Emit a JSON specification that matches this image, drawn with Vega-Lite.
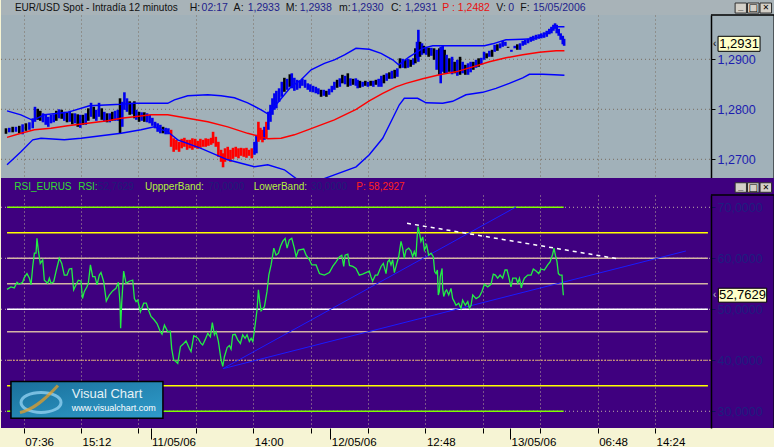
{
"$schema":"https://vega.github.io/schema/vega-lite/v6.json",
"padding":0,"background":"#f6f4d4","spacing":0,"bounds":"flush",
"config":{"view":{"stroke":null},"font":"Liberation Sans"},
"resolve":{"scale":{"x":"independent","y":"independent","color":"independent"}},
"datasets":{
"price":[
{"t":-11.7,"lo":1.2751,"hi":1.2762,"c":"k"},{"t":-9.5,"lo":1.2754,"hi":1.2763,"c":"b"},{"t":-7.3,"lo":1.2754,"hi":1.2765,"c":"k"},{"t":-5.1,"lo":1.2755,"hi":1.2765,"c":"b"},{"t":-2.9,"lo":1.2752,"hi":1.2767,"c":"k"},{"t":-0.7,"lo":1.275,"hi":1.277,"c":"b"},{"t":1.5,"lo":1.2757,"hi":1.2772,"c":"k"},{"t":3.8,"lo":1.2759,"hi":1.2774,"c":"b"},{"t":6.0,"lo":1.2762,"hi":1.2782,"c":"b"},{"t":7.5,"lo":1.2775,"hi":1.2805,"c":"b"},{"t":9.3,"lo":1.2779,"hi":1.2801,"c":"k"},{"t":11.0,"lo":1.2777,"hi":1.2797,"c":"k"},{"t":12.8,"lo":1.2774,"hi":1.2792,"c":"b"},{"t":14.6,"lo":1.2769,"hi":1.2789,"c":"b"},{"t":16.3,"lo":1.2765,"hi":1.2785,"c":"b"},{"t":18.1,"lo":1.2772,"hi":1.2789,"c":"b"},{"t":19.9,"lo":1.2774,"hi":1.279,"c":"b"},{"t":21.6,"lo":1.2777,"hi":1.2797,"c":"k"},{"t":23.4,"lo":1.2782,"hi":1.28,"c":"b"},{"t":25.2,"lo":1.2781,"hi":1.2799,"c":"k"},{"t":26.9,"lo":1.2777,"hi":1.2795,"c":"b"},{"t":28.7,"lo":1.2774,"hi":1.2794,"c":"k"},{"t":30.5,"lo":1.2775,"hi":1.2797,"c":"b"},{"t":32.2,"lo":1.277,"hi":1.2792,"c":"k"},{"t":34.0,"lo":1.2772,"hi":1.2792,"c":"b"},{"t":35.8,"lo":1.2765,"hi":1.279,"c":"k"},{"t":37.5,"lo":1.2763,"hi":1.2789,"c":"b"},{"t":39.3,"lo":1.2769,"hi":1.2789,"c":"k"},{"t":41.1,"lo":1.2769,"hi":1.2792,"c":"b"},{"t":42.8,"lo":1.2777,"hi":1.2802,"c":"k"},{"t":44.6,"lo":1.2785,"hi":1.2813,"c":"b"},{"t":46.4,"lo":1.2781,"hi":1.2805,"c":"k"},{"t":48.1,"lo":1.2777,"hi":1.2799,"c":"b"},{"t":49.9,"lo":1.2785,"hi":1.2813,"c":"b"},{"t":51.7,"lo":1.2779,"hi":1.2802,"c":"k"},{"t":53.4,"lo":1.2775,"hi":1.2795,"c":"b"},{"t":55.2,"lo":1.2774,"hi":1.2792,"c":"k"},{"t":57.0,"lo":1.2774,"hi":1.2792,"c":"b"},{"t":58.7,"lo":1.2777,"hi":1.2795,"c":"k"},{"t":60.5,"lo":1.2777,"hi":1.2797,"c":"b"},{"t":62.3,"lo":1.2777,"hi":1.2799,"c":"b"},{"t":63.8,"lo":1.2752,"hi":1.2822,"c":"k"},{"t":65.3,"lo":1.2765,"hi":1.2815,"c":"b"},{"t":66.7,"lo":1.2799,"hi":1.2834,"c":"b"},{"t":68.4,"lo":1.2795,"hi":1.2822,"c":"b"},{"t":70.2,"lo":1.2789,"hi":1.2816,"c":"k"},{"t":72.0,"lo":1.279,"hi":1.2813,"c":"b"},{"t":73.3,"lo":1.2782,"hi":1.2816,"c":"k"},{"t":74.6,"lo":1.2779,"hi":1.2799,"c":"b"},{"t":76.4,"lo":1.2775,"hi":1.2795,"c":"k"},{"t":78.1,"lo":1.2777,"hi":1.2794,"c":"b"},{"t":79.9,"lo":1.2775,"hi":1.2794,"c":"k"},{"t":81.7,"lo":1.2774,"hi":1.2792,"c":"b"},{"t":83.4,"lo":1.2772,"hi":1.2789,"c":"b"},{"t":85.2,"lo":1.2767,"hi":1.2783,"c":"b"},{"t":87.0,"lo":1.2762,"hi":1.2775,"c":"b"},{"t":88.7,"lo":1.2755,"hi":1.2772,"c":"b"},{"t":90.5,"lo":1.2752,"hi":1.2769,"c":"b"},{"t":92.3,"lo":1.2752,"hi":1.2765,"c":"k"},{"t":94.0,"lo":1.275,"hi":1.2763,"c":"b"},{"t":95.8,"lo":1.275,"hi":1.2762,"c":"b"},
{"t":97.6,"lo":1.2725,"hi":1.2759,"c":"r"},{"t":99.3,"lo":1.2715,"hi":1.2742,"c":"r"},{"t":101.1,"lo":1.2719,"hi":1.2739,"c":"r"},{"t":102.9,"lo":1.2715,"hi":1.2735,"c":"r"},{"t":104.6,"lo":1.2722,"hi":1.2741,"c":"r"},{"t":106.4,"lo":1.2725,"hi":1.2743,"c":"r"},{"t":108.2,"lo":1.2719,"hi":1.2739,"c":"r"},{"t":109.9,"lo":1.2722,"hi":1.2739,"c":"r"},{"t":111.7,"lo":1.2719,"hi":1.2742,"c":"r"},{"t":113.5,"lo":1.2723,"hi":1.2741,"c":"r"},{"t":115.2,"lo":1.2721,"hi":1.2737,"c":"r"},{"t":117.0,"lo":1.2723,"hi":1.2741,"c":"r"},{"t":118.8,"lo":1.2725,"hi":1.2739,"c":"r"},{"t":120.5,"lo":1.2725,"hi":1.2742,"c":"r"},{"t":122.3,"lo":1.2727,"hi":1.2741,"c":"r"},{"t":124.1,"lo":1.2729,"hi":1.2743,"c":"r"},{"t":125.4,"lo":1.2732,"hi":1.2755,"c":"r"},{"t":127.2,"lo":1.2725,"hi":1.2745,"c":"r"},{"t":128.9,"lo":1.2705,"hi":1.2735,"c":"r"},{"t":130.7,"lo":1.2695,"hi":1.2719,"c":"r"},{"t":132.0,"lo":1.2684,"hi":1.2712,"c":"r"},{"t":133.3,"lo":1.2695,"hi":1.2722,"c":"r"},{"t":135.1,"lo":1.2699,"hi":1.2725,"c":"r"},{"t":136.9,"lo":1.2695,"hi":1.2719,"c":"r"},{"t":138.6,"lo":1.2701,"hi":1.2723,"c":"r"},{"t":140.4,"lo":1.2705,"hi":1.2725,"c":"r"},{"t":142.2,"lo":1.2702,"hi":1.2722,"c":"r"},{"t":143.9,"lo":1.2707,"hi":1.2723,"c":"r"},{"t":145.7,"lo":1.2705,"hi":1.2722,"c":"r"},{"t":147.5,"lo":1.2703,"hi":1.2723,"c":"r"},{"t":149.2,"lo":1.2707,"hi":1.2719,"c":"r"},{"t":151.0,"lo":1.2702,"hi":1.2722,"c":"r"},{"t":152.8,"lo":1.2709,"hi":1.2735,"c":"b"},{"t":154.1,"lo":1.2712,"hi":1.2749,"c":"b"},{"t":155.4,"lo":1.2735,"hi":1.2775,"c":"r"},{"t":156.7,"lo":1.2739,"hi":1.2763,"c":"r"},{"t":158.1,"lo":1.2734,"hi":1.2759,"c":"r"},{"t":159.4,"lo":1.2739,"hi":1.2765,"c":"b"},{"t":160.7,"lo":1.2742,"hi":1.2775,"c":"r"},
{"t":162.0,"lo":1.2759,"hi":1.2795,"c":"b"},{"t":163.4,"lo":1.2775,"hi":1.2809,"c":"b"},{"t":164.7,"lo":1.2789,"hi":1.2822,"c":"b"},{"t":166.0,"lo":1.2799,"hi":1.2832,"c":"b"},{"t":167.3,"lo":1.2802,"hi":1.2837,"c":"b"},{"t":169.1,"lo":1.2815,"hi":1.2842,"c":"b"},{"t":170.9,"lo":1.2825,"hi":1.2855,"c":"b"},{"t":172.6,"lo":1.2835,"hi":1.2863,"c":"k"},{"t":174.4,"lo":1.2839,"hi":1.2861,"c":"b"},{"t":176.2,"lo":1.2845,"hi":1.287,"c":"k"},{"t":177.5,"lo":1.2842,"hi":1.2872,"c":"b"},{"t":179.2,"lo":1.2837,"hi":1.2863,"c":"b"},{"t":181.0,"lo":1.2839,"hi":1.2859,"c":"b"},{"t":182.8,"lo":1.2842,"hi":1.2857,"c":"b"},{"t":184.5,"lo":1.2847,"hi":1.2861,"c":"b"},{"t":186.3,"lo":1.2843,"hi":1.2859,"c":"b"},{"t":188.1,"lo":1.2839,"hi":1.2852,"c":"b"},{"t":189.8,"lo":1.2835,"hi":1.285,"c":"b"},{"t":191.6,"lo":1.2834,"hi":1.2847,"c":"b"},{"t":193.4,"lo":1.2832,"hi":1.2845,"c":"b"},{"t":195.1,"lo":1.283,"hi":1.2842,"c":"b"},{"t":196.9,"lo":1.2825,"hi":1.2839,"c":"k"},{"t":198.7,"lo":1.2827,"hi":1.2839,"c":"b"},{"t":200.4,"lo":1.2825,"hi":1.2837,"c":"k"},{"t":202.2,"lo":1.2829,"hi":1.2841,"c":"b"},{"t":204.0,"lo":1.2834,"hi":1.2847,"c":"b"},{"t":205.7,"lo":1.2839,"hi":1.2855,"c":"b"},{"t":207.5,"lo":1.2843,"hi":1.2859,"c":"k"},{"t":209.3,"lo":1.2845,"hi":1.2862,"c":"b"},{"t":211.0,"lo":1.2852,"hi":1.2869,"c":"k"},{"t":212.8,"lo":1.285,"hi":1.2867,"c":"b"},{"t":214.6,"lo":1.2845,"hi":1.2872,"c":"k"},{"t":216.3,"lo":1.2847,"hi":1.2862,"c":"b"},{"t":218.1,"lo":1.2849,"hi":1.2861,"c":"k"},{"t":219.9,"lo":1.2847,"hi":1.2862,"c":"b"},
{"t":221.1,"lo":1.2842,"hi":1.2859,"c":"b"},{"t":222.6,"lo":1.2843,"hi":1.2857,"c":"k"},{"t":224.4,"lo":1.2845,"hi":1.2855,"c":"b"},{"t":226.2,"lo":1.2847,"hi":1.2857,"c":"k"},{"t":227.9,"lo":1.2845,"hi":1.2855,"c":"b"},{"t":229.7,"lo":1.2847,"hi":1.2857,"c":"k"},{"t":231.5,"lo":1.2845,"hi":1.2857,"c":"b"},{"t":233.2,"lo":1.2849,"hi":1.2859,"c":"k"},{"t":235.0,"lo":1.2845,"hi":1.2861,"c":"b"},{"t":236.8,"lo":1.2845,"hi":1.2867,"c":"b"},{"t":238.5,"lo":1.2852,"hi":1.2869,"c":"k"},{"t":240.3,"lo":1.2857,"hi":1.2872,"c":"b"},{"t":242.1,"lo":1.2861,"hi":1.2874,"c":"k"},{"t":243.8,"lo":1.2861,"hi":1.2877,"c":"b"},{"t":245.6,"lo":1.2862,"hi":1.2879,"c":"k"},{"t":247.4,"lo":1.2865,"hi":1.2882,"c":"b"},{"t":249.1,"lo":1.2882,"hi":1.2902,"c":"k"},{"t":250.9,"lo":1.2883,"hi":1.2901,"c":"b"},{"t":252.7,"lo":1.2882,"hi":1.2899,"c":"k"},{"t":254.4,"lo":1.2883,"hi":1.2901,"c":"b"},{"t":256.2,"lo":1.2885,"hi":1.2899,"c":"k"},{"t":258.0,"lo":1.2889,"hi":1.2902,"c":"b"},{"t":259.3,"lo":1.2892,"hi":1.2922,"c":"k"},{"t":260.4,"lo":1.2902,"hi":1.2935,"c":"b"},{"t":261.3,"lo":1.2895,"hi":1.2959,"c":"b"},{"t":262.4,"lo":1.2905,"hi":1.2935,"c":"k"},{"t":263.7,"lo":1.2909,"hi":1.2932,"c":"b"},{"t":265.0,"lo":1.2912,"hi":1.2927,"c":"k"},{"t":266.4,"lo":1.2909,"hi":1.2925,"c":"b"},{"t":268.1,"lo":1.2905,"hi":1.2923,"c":"k"},{"t":269.9,"lo":1.2907,"hi":1.2923,"c":"b"},{"t":271.7,"lo":1.2899,"hi":1.2922,"c":"k"},{"t":273.4,"lo":1.2879,"hi":1.2919,"c":"b"},{"t":275.2,"lo":1.2869,"hi":1.2922,"c":"k"},{"t":276.1,"lo":1.2852,"hi":1.2925,"c":"b"},{"t":277.4,"lo":1.2875,"hi":1.2927,"c":"b"},{"t":278.7,"lo":1.2872,"hi":1.2919,"c":"k"},{"t":280.0,"lo":1.2872,"hi":1.2909,"c":"b"},{"t":281.8,"lo":1.2875,"hi":1.2902,"c":"k"},{"t":283.6,"lo":1.287,"hi":1.2905,"c":"b"},{"t":285.3,"lo":1.2872,"hi":1.2895,"c":"k"},{"t":287.1,"lo":1.2867,"hi":1.2899,"c":"b"},{"t":288.9,"lo":1.2869,"hi":1.2905,"c":"k"},{"t":290.6,"lo":1.2872,"hi":1.2895,"c":"b"},{"t":292.4,"lo":1.2869,"hi":1.2889,"c":"k"},{"t":294.2,"lo":1.2869,"hi":1.2892,"c":"b"},{"t":295.9,"lo":1.2874,"hi":1.2895,"c":"b"},{"t":297.7,"lo":1.2879,"hi":1.2895,"c":"k"},{"t":299.5,"lo":1.2883,"hi":1.2899,"c":"b"},{"t":301.2,"lo":1.2885,"hi":1.2902,"c":"k"},{"t":303.0,"lo":1.2889,"hi":1.2903,"c":"b"},{"t":304.8,"lo":1.2899,"hi":1.2915,"c":"b"},{"t":306.5,"lo":1.2902,"hi":1.2912,"c":"k"},{"t":308.3,"lo":1.2905,"hi":1.2917,"c":"b"},{"t":310.1,"lo":1.2905,"hi":1.2919,"c":"k"},{"t":311.8,"lo":1.2915,"hi":1.2929,"c":"b"},{"t":313.6,"lo":1.2917,"hi":1.293,"c":"k"},{"t":315.4,"lo":1.2922,"hi":1.2932,"c":"b"},{"t":317.1,"lo":1.2925,"hi":1.2937,"c":"b"},{"t":318.9,"lo":1.2927,"hi":1.2935,"c":"b"},{"t":320.7,"lo":1.2923,"hi":1.2925,"c":"k"},{"t":322.9,"lo":1.2915,"hi":1.2919,"c":"b"},{"t":325.1,"lo":1.2922,"hi":1.2927,"c":"b"},{"t":326.8,"lo":1.2919,"hi":1.293,"c":"k"},{"t":328.6,"lo":1.2919,"hi":1.2932,"c":"b"},{"t":330.4,"lo":1.2927,"hi":1.2937,"c":"b"},{"t":332.1,"lo":1.2929,"hi":1.2939,"c":"b"},{"t":333.9,"lo":1.2932,"hi":1.2941,"c":"b"},{"t":335.7,"lo":1.2935,"hi":1.2945,"c":"b"},{"t":337.4,"lo":1.2937,"hi":1.2947,"c":"b"},{"t":339.2,"lo":1.2939,"hi":1.2949,"c":"b"},{"t":341.0,"lo":1.2941,"hi":1.295,"c":"b"},{"t":342.7,"lo":1.2942,"hi":1.2952,"c":"b"},{"t":344.5,"lo":1.2943,"hi":1.2954,"c":"b"},{"t":346.3,"lo":1.2945,"hi":1.2957,"c":"b"},{"t":348.0,"lo":1.295,"hi":1.2961,"c":"b"},{"t":349.4,"lo":1.2952,"hi":1.2965,"c":"b"},{"t":350.7,"lo":1.2957,"hi":1.2969,"c":"b"},{"t":351.8,"lo":1.2961,"hi":1.2972,"c":"b"},{"t":352.9,"lo":1.2952,"hi":1.2969,"c":"b"},{"t":354.2,"lo":1.2947,"hi":1.2961,"c":"b"},{"t":355.5,"lo":1.2939,"hi":1.2952,"c":"b"},{"t":356.9,"lo":1.293,"hi":1.2947,"c":"b"},{"t":357.8,"lo":1.2927,"hi":1.2941,"c":"b"}
],
"bands":[
{"t":-11.0,"v":1.2797,"b":"u"},{"t":-1.8,"v":1.2789,"b":"u"},{"t":6.0,"v":1.2778,"b":"u"},{"t":13.7,"v":1.2789,"b":"u"},{"t":29.1,"v":1.2794,"b":"u"},{"t":43.5,"v":1.2807,"b":"u"},{"t":64.5,"v":1.281,"b":"u"},{"t":73.3,"v":1.2812,"b":"u"},{"t":95.4,"v":1.2812,"b":"u"},{"t":99.8,"v":1.2819,"b":"u"},{"t":108.6,"v":1.2827,"b":"u"},{"t":121.9,"v":1.2829,"b":"u"},{"t":130.7,"v":1.2827,"b":"u"},{"t":139.5,"v":1.2823,"b":"u"},{"t":148.3,"v":1.2813,"b":"u"},{"t":157.2,"v":1.2799,"b":"u"},{"t":161.6,"v":1.2791,"b":"u"},{"t":168.2,"v":1.2813,"b":"u"},{"t":177.0,"v":1.2845,"b":"u"},{"t":183.7,"v":1.2859,"b":"u"},{"t":190.3,"v":1.2879,"b":"u"},{"t":199.1,"v":1.2892,"b":"u"},{"t":205.7,"v":1.2899,"b":"u"},{"t":212.4,"v":1.2909,"b":"u"},{"t":220.0,"v":1.2922,"b":"u"},{"t":228.8,"v":1.292,"b":"u"},{"t":236.6,"v":1.2912,"b":"u"},{"t":244.3,"v":1.2899,"b":"u"},{"t":248.3,"v":1.2889,"b":"u"},{"t":255.3,"v":1.2905,"b":"u"},{"t":264.2,"v":1.2922,"b":"u"},{"t":270.8,"v":1.2927,"b":"u"},{"t":280.7,"v":1.2927,"b":"u"},{"t":305.0,"v":1.2927,"b":"u"},{"t":310.5,"v":1.2931,"b":"u"},{"t":319.3,"v":1.2939,"b":"u"},{"t":330.4,"v":1.294,"b":"u"},{"t":337.0,"v":1.2941,"b":"u"},{"t":343.6,"v":1.2947,"b":"u"},{"t":351.3,"v":1.2965,"b":"u"},{"t":358.0,"v":1.2965,"b":"u"},
{"t":-11.0,"v":1.2744,"b":"m"},{"t":-1.8,"v":1.2752,"b":"m"},{"t":7.1,"v":1.2759,"b":"m"},{"t":18.1,"v":1.2762,"b":"m"},{"t":29.1,"v":1.2767,"b":"m"},{"t":42.4,"v":1.2772,"b":"m"},{"t":55.6,"v":1.2777,"b":"m"},{"t":64.5,"v":1.2782,"b":"m"},{"t":73.3,"v":1.2785,"b":"m"},{"t":84.3,"v":1.2789,"b":"m"},{"t":95.4,"v":1.2789,"b":"m"},{"t":108.6,"v":1.2782,"b":"m"},{"t":121.9,"v":1.2775,"b":"m"},{"t":135.1,"v":1.2765,"b":"m"},{"t":148.3,"v":1.2752,"b":"m"},{"t":157.2,"v":1.2745,"b":"m"},{"t":161.6,"v":1.2741,"b":"m"},{"t":170.4,"v":1.2742,"b":"m"},{"t":179.2,"v":1.2749,"b":"m"},{"t":188.1,"v":1.2759,"b":"m"},{"t":196.9,"v":1.2769,"b":"m"},{"t":205.7,"v":1.2779,"b":"m"},{"t":214.6,"v":1.2792,"b":"m"},{"t":220.1,"v":1.28,"b":"m"},{"t":228.8,"v":1.2817,"b":"m"},{"t":237.7,"v":1.2832,"b":"m"},{"t":246.5,"v":1.2845,"b":"m"},{"t":253.1,"v":1.2852,"b":"m"},{"t":264.2,"v":1.2861,"b":"m"},{"t":275.2,"v":1.2869,"b":"m"},{"t":286.2,"v":1.2875,"b":"m"},{"t":297.3,"v":1.2885,"b":"m"},{"t":308.3,"v":1.2895,"b":"m"},{"t":319.3,"v":1.2903,"b":"m"},{"t":330.4,"v":1.2909,"b":"m"},{"t":341.4,"v":1.2914,"b":"m"},{"t":352.5,"v":1.2917,"b":"m"},{"t":358.0,"v":1.2917,"b":"m"},
{"t":-11.0,"v":1.2689,"b":"l"},{"t":-1.8,"v":1.2715,"b":"l"},{"t":6.0,"v":1.2739,"b":"l"},{"t":11.5,"v":1.2742,"b":"l"},{"t":26.9,"v":1.2739,"b":"l"},{"t":38.0,"v":1.2742,"b":"l"},{"t":51.2,"v":1.2747,"b":"l"},{"t":64.5,"v":1.2752,"b":"l"},{"t":77.7,"v":1.2759,"b":"l"},{"t":86.5,"v":1.2765,"b":"l"},{"t":95.4,"v":1.2755,"b":"l"},{"t":102.0,"v":1.2739,"b":"l"},{"t":117.4,"v":1.2722,"b":"l"},{"t":135.1,"v":1.2699,"b":"l"},{"t":152.8,"v":1.2685,"b":"l"},{"t":161.6,"v":1.2689,"b":"l"},{"t":172.6,"v":1.2679,"b":"l"},{"t":181.5,"v":1.2659,"b":"l"},{"t":189.2,"v":1.2652,"b":"l"},{"t":196.9,"v":1.2659,"b":"l"},{"t":205.7,"v":1.2669,"b":"l"},{"t":220.1,"v":1.2685,"b":"l"},{"t":228.8,"v":1.2709,"b":"l"},{"t":237.7,"v":1.2742,"b":"l"},{"t":244.3,"v":1.2782,"b":"l"},{"t":248.7,"v":1.2809,"b":"l"},{"t":252.0,"v":1.2822,"b":"l"},{"t":260.8,"v":1.2822,"b":"l"},{"t":266.4,"v":1.2813,"b":"l"},{"t":277.4,"v":1.2812,"b":"l"},{"t":284.0,"v":1.2816,"b":"l"},{"t":292.8,"v":1.2829,"b":"l"},{"t":303.9,"v":1.2834,"b":"l"},{"t":312.7,"v":1.2842,"b":"l"},{"t":321.5,"v":1.2852,"b":"l"},{"t":330.4,"v":1.2863,"b":"l"},{"t":334.8,"v":1.287,"b":"l"},{"t":343.6,"v":1.287,"b":"l"},{"t":351.3,"v":1.2869,"b":"l"},{"t":358.0,"v":1.2868,"b":"l"}
],
"rsi":[
{"t":-11.0,"r":53.9},{"t":-8.4,"r":54.4},{"t":-6.2,"r":54.2},{"t":-4.4,"r":55.3},{"t":-2.9,"r":54.9},{"t":-0.7,"r":55.3},{"t":0.4,"r":56.2},{"t":2.2,"r":57.0},{"t":3.8,"r":56.1},{"t":4.9,"r":54.8},{"t":6.0,"r":58.4},{"t":7.1,"r":61.0},{"t":8.2,"r":61.0},{"t":8.8,"r":63.9},{"t":9.7,"r":61.6},{"t":11.0,"r":59.0},{"t":12.6,"r":59.7},{"t":13.7,"r":55.7},{"t":15.9,"r":55.1},{"t":17.0,"r":56.1},{"t":18.1,"r":55.1},{"t":19.9,"r":55.4},{"t":21.4,"r":57.4},{"t":23.6,"r":60.0},{"t":25.2,"r":59.0},{"t":26.9,"r":56.7},{"t":28.7,"r":56.7},{"t":30.2,"r":57.9},{"t":31.8,"r":58.0},{"t":33.1,"r":53.8},{"t":34.7,"r":54.8},{"t":36.2,"r":55.7},{"t":38.0,"r":55.5},{"t":38.9,"r":52.1},{"t":40.2,"r":53.5},{"t":41.9,"r":54.4},{"t":42.8,"r":55.1},{"t":44.2,"r":58.7},{"t":45.7,"r":56.4},{"t":47.2,"r":56.4},{"t":48.6,"r":54.8},{"t":50.1,"r":56.7},{"t":51.2,"r":57.2},{"t":53.0,"r":55.4},{"t":54.7,"r":51.6},{"t":56.7,"r":52.8},{"t":58.9,"r":53.6},{"t":61.1,"r":54.1},{"t":62.7,"r":55.3},{"t":63.8,"r":51.2},{"t":64.2,"r":46.3},{"t":64.9,"r":51.2},{"t":66.2,"r":57.5},{"t":67.8,"r":55.1},{"t":70.0,"r":55.5},{"t":72.2,"r":55.7},{"t":73.3,"r":52.1},{"t":74.4,"r":51.5},{"t":75.5,"r":51.8},{"t":77.3,"r":49.5},{"t":79.5,"r":51.2},{"t":81.2,"r":51.2},{"t":82.6,"r":49.9},{"t":84.3,"r":48.6},{"t":86.5,"r":47.9},{"t":88.3,"r":47.2},{"t":90.5,"r":45.6},{"t":91.6,"r":45.1},{"t":93.2,"r":46.9},{"t":95.4,"r":45.6},{"t":97.1,"r":45.7},{"t":98.0,"r":42.3},{"t":99.3,"r":40.1},{"t":100.9,"r":39.7},{"t":102.0,"r":39.4},{"t":103.8,"r":42.7},{"t":106.0,"r":43.3},{"t":107.5,"r":43.8},{"t":109.7,"r":42.3},{"t":110.8,"r":41.7},{"t":112.6,"r":44.8},{"t":114.1,"r":44.6},{"t":115.7,"r":44.2},{"t":117.4,"r":43.3},{"t":118.5,"r":43.0},{"t":120.1,"r":44.0},{"t":121.9,"r":45.3},{"t":123.6,"r":44.6},{"t":124.9,"r":47.4},{"t":126.3,"r":45.0},{"t":127.4,"r":45.6},{"t":128.9,"r":43.7},{"t":130.7,"r":40.1},{"t":131.8,"r":38.8},{"t":132.9,"r":40.7},{"t":134.7,"r":42.5},{"t":136.2,"r":42.9},{"t":137.3,"r":42.2},{"t":138.4,"r":45.0},{"t":140.0,"r":45.1},{"t":141.7,"r":44.0},{"t":143.5,"r":43.3},{"t":145.0,"r":45.0},{"t":146.6,"r":44.3},{"t":147.9,"r":45.0},{"t":149.4,"r":43.7},{"t":150.6,"r":44.3},{"t":151.7,"r":43.7},{"t":152.8,"r":45.9},{"t":154.5,"r":49.9},{"t":155.4,"r":53.8},{"t":156.3,"r":51.5},{"t":157.2,"r":49.7},{"t":159.4,"r":50.5},{"t":161.1,"r":53.5},{"t":162.3,"r":56.7},{"t":163.8,"r":58.7},{"t":165.6,"r":62.0},{"t":167.1,"r":60.6},{"t":168.7,"r":61.0},{"t":170.0,"r":62.3},{"t":171.5,"r":63.3},{"t":173.1,"r":63.9},{"t":174.4,"r":62.0},{"t":175.9,"r":63.6},{"t":177.5,"r":63.9},{"t":179.2,"r":62.0},{"t":180.4,"r":60.3},{"t":181.9,"r":61.6},{"t":185.4,"r":61.8},{"t":187.0,"r":60.6},{"t":189.2,"r":59.7},{"t":190.7,"r":58.7},{"t":193.6,"r":58.7},{"t":195.8,"r":57.0},{"t":196.9,"r":56.9},{"t":199.1,"r":56.7},{"t":202.4,"r":57.2},{"t":204.6,"r":58.4},{"t":206.8,"r":59.3},{"t":209.1,"r":60.3},{"t":210.6,"r":60.6},{"t":211.9,"r":58.4},{"t":212.8,"r":60.6},{"t":214.6,"r":60.8},{"t":215.7,"r":58.6},{"t":217.9,"r":58.4},
{"t":220.0,"r":58.0},{"t":222.2,"r":56.7},{"t":224.4,"r":56.9},{"t":226.6,"r":57.2},{"t":228.8,"r":57.5},{"t":229.9,"r":56.4},{"t":231.0,"r":55.5},{"t":232.8,"r":56.7},{"t":234.3,"r":56.7},{"t":236.6,"r":58.4},{"t":238.1,"r":59.0},{"t":239.9,"r":57.0},{"t":241.0,"r":59.3},{"t":242.1,"r":59.7},{"t":243.2,"r":58.7},{"t":244.3,"r":59.7},{"t":245.4,"r":57.2},{"t":246.5,"r":58.4},{"t":248.3,"r":60.3},{"t":249.8,"r":63.3},{"t":250.9,"r":62.0},{"t":252.0,"r":60.0},{"t":253.1,"r":61.6},{"t":254.9,"r":62.0},{"t":256.4,"r":61.4},{"t":257.5,"r":60.3},{"t":258.6,"r":61.3},{"t":259.7,"r":60.3},{"t":260.4,"r":63.9},{"t":261.1,"r":66.2},{"t":261.9,"r":65.2},{"t":263.0,"r":63.3},{"t":264.2,"r":64.2},{"t":265.3,"r":61.6},{"t":266.8,"r":62.6},{"t":268.1,"r":60.6},{"t":269.7,"r":61.0},{"t":271.2,"r":60.3},{"t":272.1,"r":57.4},{"t":273.0,"r":57.0},{"t":273.9,"r":57.7},{"t":274.5,"r":52.8},{"t":275.2,"r":53.5},{"t":275.8,"r":56.4},{"t":277.0,"r":58.0},{"t":277.4,"r":54.1},{"t":278.1,"r":52.5},{"t":279.2,"r":53.5},{"t":280.0,"r":53.8},{"t":281.4,"r":52.8},{"t":282.9,"r":54.1},{"t":284.0,"r":52.1},{"t":285.1,"r":51.5},{"t":286.2,"r":50.8},{"t":288.0,"r":51.2},{"t":289.5,"r":50.2},{"t":290.6,"r":51.8},{"t":292.4,"r":50.8},{"t":294.0,"r":51.5},{"t":295.1,"r":50.2},{"t":296.2,"r":50.8},{"t":297.3,"r":52.8},{"t":299.5,"r":52.1},{"t":301.7,"r":52.5},{"t":303.4,"r":53.5},{"t":305.0,"r":54.9},{"t":307.2,"r":54.4},{"t":309.4,"r":54.9},{"t":310.9,"r":56.9},{"t":312.3,"r":56.7},{"t":313.8,"r":56.1},{"t":315.4,"r":56.7},{"t":317.1,"r":56.1},{"t":318.7,"r":57.7},{"t":320.0,"r":57.7},{"t":321.1,"r":56.4},{"t":322.6,"r":54.4},{"t":323.8,"r":56.1},{"t":326.0,"r":56.1},{"t":327.1,"r":55.1},{"t":328.2,"r":56.1},{"t":329.5,"r":54.2},{"t":330.4,"r":55.3},{"t":331.5,"r":56.1},{"t":333.7,"r":56.7},{"t":335.9,"r":56.7},{"t":337.4,"r":57.9},{"t":339.2,"r":57.5},{"t":341.0,"r":57.0},{"t":342.5,"r":57.9},{"t":344.7,"r":57.7},{"t":346.9,"r":58.7},{"t":348.5,"r":59.3},{"t":350.2,"r":60.8},{"t":351.1,"r":62.0},{"t":352.0,"r":60.6},{"t":353.1,"r":59.3},{"t":354.0,"r":57.0},{"t":355.1,"r":56.7},{"t":356.4,"r":56.7},{"t":356.9,"r":54.1},{"t":357.3,"r":52.76}
],
"lvFull":[{"lv":65,"k":"y"},{"lv":60,"k":"t"},{"lv":55,"k":"t"},{"lv":50,"k":"w"},{"lv":45.6,"k":"t"},{"lv":35,"k":"y"}],
"lvShort":[{"lv":70,"k":"g"},{"lv":30,"k":"g"}],
"trend":[{"t":131.9,"r":38.35,"ln":"a"},{"t":326.0,"r":70.06,"ln":"a"},{"t":131.9,"r":38.35,"ln":"b"},{"t":438.4,"r":61.43,"ln":"b"}],
"tw":[{"t":253.8,"r":66.86},{"t":394.3,"r":59.86}]
},
"vconcat":[
{"width":774,"height":15,"view":{"fill":"#a8b3b8"},"data":{"values":[{}]},
"layer":[
{"mark":{"type":"text","align":"left","baseline":"middle","fontSize":10,"color":"#101010"},"encoding":{"x":{"datum":-5.8,"type":"quantitative","scale":{"domain":[-15,497.4],"nice":false,"zero":false},"axis":null},"y":{"datum":0.5,"type":"quantitative","scale":{"domain":[0,1],"nice":false,"zero":false},"axis":null},"text":{"value":"EUR/USD Spot - Intradía 12 minutos"}}},
{"mark":{"type":"text","align":"left","baseline":"middle","fontSize":10.5,"color":"#101010"},"encoding":{"x":{"datum":109.9,"type":"quantitative","scale":{"domain":[-15,497.4],"nice":false,"zero":false},"axis":null},"y":{"datum":0.5,"type":"quantitative","scale":{"domain":[0,1],"nice":false,"zero":false},"axis":null},"text":{"value":"H:"}}},
{"mark":{"type":"text","align":"left","baseline":"middle","fontSize":10.5,"color":"#1e1e8c"},"encoding":{"x":{"datum":117.8,"type":"quantitative","scale":{"domain":[-15,497.4],"nice":false,"zero":false},"axis":null},"y":{"datum":0.5,"type":"quantitative","scale":{"domain":[0,1],"nice":false,"zero":false},"axis":null},"text":{"value":"02:17"}}},
{"mark":{"type":"text","align":"left","baseline":"middle","fontSize":10.5,"color":"#101010"},"encoding":{"x":{"datum":139.0,"type":"quantitative","scale":{"domain":[-15,497.4],"nice":false,"zero":false},"axis":null},"y":{"datum":0.5,"type":"quantitative","scale":{"domain":[0,1],"nice":false,"zero":false},"axis":null},"text":{"value":"A:"}}},
{"mark":{"type":"text","align":"left","baseline":"middle","fontSize":10.5,"color":"#1e1e8c"},"encoding":{"x":{"datum":148.3,"type":"quantitative","scale":{"domain":[-15,497.4],"nice":false,"zero":false},"axis":null},"y":{"datum":0.5,"type":"quantitative","scale":{"domain":[0,1],"nice":false,"zero":false},"axis":null},"text":{"value":"1,2933"}}},
{"mark":{"type":"text","align":"left","baseline":"middle","fontSize":10.5,"color":"#101010"},"encoding":{"x":{"datum":173.5,"type":"quantitative","scale":{"domain":[-15,497.4],"nice":false,"zero":false},"axis":null},"y":{"datum":0.5,"type":"quantitative","scale":{"domain":[0,1],"nice":false,"zero":false},"axis":null},"text":{"value":"M:"}}},
{"mark":{"type":"text","align":"left","baseline":"middle","fontSize":10.5,"color":"#1e1e8c"},"encoding":{"x":{"datum":182.7,"type":"quantitative","scale":{"domain":[-15,497.4],"nice":false,"zero":false},"axis":null},"y":{"datum":0.5,"type":"quantitative","scale":{"domain":[0,1],"nice":false,"zero":false},"axis":null},"text":{"value":"1,2938"}}},
{"mark":{"type":"text","align":"left","baseline":"middle","fontSize":10.5,"color":"#101010"},"encoding":{"x":{"datum":208.7,"type":"quantitative","scale":{"domain":[-15,497.4],"nice":false,"zero":false},"axis":null},"y":{"datum":0.5,"type":"quantitative","scale":{"domain":[0,1],"nice":false,"zero":false},"axis":null},"text":{"value":"m:"}}},
{"mark":{"type":"text","align":"left","baseline":"middle","fontSize":10.5,"color":"#1e1e8c"},"encoding":{"x":{"datum":217.1,"type":"quantitative","scale":{"domain":[-15,497.4],"nice":false,"zero":false},"axis":null},"y":{"datum":0.5,"type":"quantitative","scale":{"domain":[0,1],"nice":false,"zero":false},"axis":null},"text":{"value":"1,2930"}}},
{"mark":{"type":"text","align":"left","baseline":"middle","fontSize":10.5,"color":"#101010"},"encoding":{"x":{"datum":243.2,"type":"quantitative","scale":{"domain":[-15,497.4],"nice":false,"zero":false},"axis":null},"y":{"datum":0.5,"type":"quantitative","scale":{"domain":[0,1],"nice":false,"zero":false},"axis":null},"text":{"value":"C:"}}},
{"mark":{"type":"text","align":"left","baseline":"middle","fontSize":10.5,"color":"#1e1e8c"},"encoding":{"x":{"datum":252.4,"type":"quantitative","scale":{"domain":[-15,497.4],"nice":false,"zero":false},"axis":null},"y":{"datum":0.5,"type":"quantitative","scale":{"domain":[0,1],"nice":false,"zero":false},"axis":null},"text":{"value":"1,2931"}}},
{"mark":{"type":"text","align":"left","baseline":"middle","fontSize":10.5,"color":"#e81010"},"encoding":{"x":{"datum":277.1,"type":"quantitative","scale":{"domain":[-15,497.4],"nice":false,"zero":false},"axis":null},"y":{"datum":0.5,"type":"quantitative","scale":{"domain":[0,1],"nice":false,"zero":false},"axis":null},"text":{"value":"P : 1,2482"}}},
{"mark":{"type":"text","align":"left","baseline":"middle","fontSize":10.5,"color":"#101010"},"encoding":{"x":{"datum":312.9,"type":"quantitative","scale":{"domain":[-15,497.4],"nice":false,"zero":false},"axis":null},"y":{"datum":0.5,"type":"quantitative","scale":{"domain":[0,1],"nice":false,"zero":false},"axis":null},"text":{"value":"V:"}}},
{"mark":{"type":"text","align":"left","baseline":"middle","fontSize":10.5,"color":"#1e1e8c"},"encoding":{"x":{"datum":320.8,"type":"quantitative","scale":{"domain":[-15,497.4],"nice":false,"zero":false},"axis":null},"y":{"datum":0.5,"type":"quantitative","scale":{"domain":[0,1],"nice":false,"zero":false},"axis":null},"text":{"value":"0"}}},
{"mark":{"type":"text","align":"left","baseline":"middle","fontSize":10.5,"color":"#101010"},"encoding":{"x":{"datum":328.8,"type":"quantitative","scale":{"domain":[-15,497.4],"nice":false,"zero":false},"axis":null},"y":{"datum":0.5,"type":"quantitative","scale":{"domain":[0,1],"nice":false,"zero":false},"axis":null},"text":{"value":"F:"}}},
{"mark":{"type":"text","align":"left","baseline":"middle","fontSize":10.5,"color":"#1e1e8c"},"encoding":{"x":{"datum":337.2,"type":"quantitative","scale":{"domain":[-15,497.4],"nice":false,"zero":false},"axis":null},"y":{"datum":0.5,"type":"quantitative","scale":{"domain":[0,1],"nice":false,"zero":false},"axis":null},"text":{"value":"15/05/2006"}}},
{"mark":{"type":"rect","fill":"#d4d0c8","stroke":"#303030","strokeWidth":1},"encoding":{"x":{"datum":471.0,"type":"quantitative","scale":{"domain":[-15,497.4],"nice":false,"zero":false},"axis":null},"x2":{"datum":478.5},"y":{"datum":0.8,"type":"quantitative","scale":{"domain":[0,1],"nice":false,"zero":false},"axis":null},"y2":{"datum":0.13}}},
{"mark":{"type":"rect","fill":"#d4d0c8","stroke":"#303030","strokeWidth":1},"encoding":{"x":{"datum":479.2,"type":"quantitative","scale":{"domain":[-15,497.4],"nice":false,"zero":false},"axis":null},"x2":{"datum":486.8},"y":{"datum":0.8,"type":"quantitative","scale":{"domain":[0,1],"nice":false,"zero":false},"axis":null},"y2":{"datum":0.13}}},
{"mark":{"type":"rect","fill":"#d4d0c8","stroke":"#303030","strokeWidth":1},"encoding":{"x":{"datum":487.5,"type":"quantitative","scale":{"domain":[-15,497.4],"nice":false,"zero":false},"axis":null},"x2":{"datum":495.1},"y":{"datum":0.8,"type":"quantitative","scale":{"domain":[0,1],"nice":false,"zero":false},"axis":null},"y2":{"datum":0.13}}},
{"mark":{"type":"text","align":"center","baseline":"middle","fontSize":9,"fontWeight":"bold","color":"#000000","dy":-1},"encoding":{"x":{"datum":474.8,"type":"quantitative","scale":{"domain":[-15,497.4],"nice":false,"zero":false},"axis":null},"y":{"datum":0.47,"type":"quantitative","scale":{"domain":[0,1],"nice":false,"zero":false},"axis":null},"text":{"value":"_"}}},
{"mark":{"type":"text","align":"center","baseline":"middle","fontSize":10,"color":"#000000","font":"DejaVu Sans"},"encoding":{"x":{"datum":483.0,"type":"quantitative","scale":{"domain":[-15,497.4],"nice":false,"zero":false},"axis":null},"y":{"datum":0.47,"type":"quantitative","scale":{"domain":[0,1],"nice":false,"zero":false},"axis":null},"text":{"value":"□"}}},
{"mark":{"type":"text","align":"center","baseline":"middle","fontSize":8,"fontWeight":"bold","color":"#000000","font":"DejaVu Sans"},"encoding":{"x":{"datum":491.3,"type":"quantitative","scale":{"domain":[-15,497.4],"nice":false,"zero":false},"axis":null},"y":{"datum":0.47,"type":"quantitative","scale":{"domain":[0,1],"nice":false,"zero":false},"axis":null},"text":{"value":"✕"}}}
]},
{"width":774,"height":163,"view":{"fill":"#a1b1b9"},
"resolve":{"scale":{"color":"independent"}},
"layer":[
{"data":{"values":[{"g":1.27},{"g":1.28},{"g":1.29}]},"mark":{"type":"rule","color":"#7a6c5e","strokeDash":[1,3],"strokeWidth":1},
"encoding":{"x":{"datum":-15,"type":"quantitative","scale":{"domain":[-15,497.4],"nice":false,"zero":false},"axis":{"values":[0,38,76,114,152,190,228,266,304,342,380,418],"labels":false,"ticks":false,"domain":false,"grid":true,"gridColor":"#7a6c5e","gridDash":[1,3],"title":null}},"x2":{"datum":455},
"y":{"field":"g","type":"quantitative","scale":{"domain":[1.26626,1.29886],"nice":false,"zero":false},"axis":{"orient":"right","offset":-64,"values":[1.27,1.28,1.29],"labelExpr":"replace(format(datum.value,'.4f'),'.',',')","grid":false,"title":null,"domainColor":"#000000","domainWidth":1.5,"tickColor":"#000000","tickSize":4,"labelPadding":2,"labelFontSize":12.5,"labelColor":"#1c1cb0","labelFont":"Liberation Sans","labelAlign":"left","labelBaseline":"middle","labelFlush":false,"labelOverlap":false}}}},
{"data":{"name":"price"},"mark":{"type":"rule","strokeWidth":2.6},
"encoding":{"x":{"field":"t","type":"quantitative"},
"y":{"field":"lo","type":"quantitative"},
"y2":{"field":"hi"},
"color":{"field":"c","type":"nominal","scale":{"domain":["b","k","r"],"range":["#0000ee","#000000","#ff0000"]},"legend":null}}},
{"data":{"name":"bands"},"mark":{"type":"line","strokeWidth":1.4,"clip":true},
"encoding":{"x":{"field":"t","type":"quantitative"},"y":{"field":"v","type":"quantitative"},"color":{"field":"b","type":"nominal","scale":{"domain":["u","m","l"],"range":["#0000ff","#ff0000","#0000ff"]},"legend":null}}},
{"data":{"values":[{}]},"mark":{"type":"rect","fill":"#ffffc8","stroke":"#000000","strokeWidth":1},"encoding":{"x":{"datum":459.7,"type":"quantitative"},"x2":{"datum":487.5},"y":{"datum":1.2916,"type":"quantitative"},"y2":{"datum":1.2946}}},
{"data":{"values":[{}]},"mark":{"type":"text","align":"center","baseline":"middle","fontSize":13,"color":"#000000"},"encoding":{"x":{"datum":473.6,"type":"quantitative"},"y":{"datum":1.2931,"type":"quantitative"},"text":{"value":"1,2931"}}},
{"data":{"values":[{}]},"mark":{"type":"text","align":"center","baseline":"middle","fontSize":10,"color":"#000000"},"encoding":{"x":{"datum":457.5,"type":"quantitative"},"y":{"datum":1.2931,"type":"quantitative"},"text":{"value":"‹"}}},
{"data":{"values":[{}]},"mark":{"type":"rule","color":"#000000","strokeWidth":1.5},"encoding":{"x":{"datum":455,"type":"quantitative"},"x2":{"datum":497.4},"y":{"datum":1.29886,"type":"quantitative"}}},
{"data":{"values":[{}]},"mark":{"type":"rule","color":"#000000","strokeWidth":1.5},"encoding":{"x":{"datum":496.9,"type":"quantitative"},"y":{"datum":1.26626,"type":"quantitative"},"y2":{"datum":1.29886}}}
]},
{"width":774,"height":17,"view":{"fill":"#3f007f"},"data":{"values":[{}]},
"layer":[
{"mark":{"type":"text","align":"left","baseline":"middle","fontSize":10,"color":"#33dd33"},"encoding":{"x":{"datum":-6.2,"type":"quantitative","scale":{"domain":[-15,497.4],"nice":false,"zero":false},"axis":null},"y":{"datum":0.45,"type":"quantitative","scale":{"domain":[0,1],"nice":false,"zero":false},"axis":null},"text":{"value":"RSI_EURUS"}}},
{"mark":{"type":"text","align":"left","baseline":"middle","fontSize":10,"color":"#33dd33"},"encoding":{"x":{"datum":36.1,"type":"quantitative","scale":{"domain":[-15,497.4],"nice":false,"zero":false},"axis":null},"y":{"datum":0.45,"type":"quantitative","scale":{"domain":[0,1],"nice":false,"zero":false},"axis":null},"text":{"value":"RSI:"}}},
{"mark":{"type":"text","align":"left","baseline":"middle","fontSize":10,"color":"#1e1e78"},"encoding":{"x":{"datum":49.0,"type":"quantitative","scale":{"domain":[-15,497.4],"nice":false,"zero":false},"axis":null},"y":{"datum":0.45,"type":"quantitative","scale":{"domain":[0,1],"nice":false,"zero":false},"axis":null},"text":{"value":"52,7629"}}},
{"mark":{"type":"text","align":"left","baseline":"middle","fontSize":10,"color":"#b4f03c"},"encoding":{"x":{"datum":80.3,"type":"quantitative","scale":{"domain":[-15,497.4],"nice":false,"zero":false},"axis":null},"y":{"datum":0.45,"type":"quantitative","scale":{"domain":[0,1],"nice":false,"zero":false},"axis":null},"text":{"value":"UppperBand:"}}},
{"mark":{"type":"text","align":"left","baseline":"middle","fontSize":10,"color":"#1e1e78"},"encoding":{"x":{"datum":122.2,"type":"quantitative","scale":{"domain":[-15,497.4],"nice":false,"zero":false},"axis":null},"y":{"datum":0.45,"type":"quantitative","scale":{"domain":[0,1],"nice":false,"zero":false},"axis":null},"text":{"value":"70,0000"}}},
{"mark":{"type":"text","align":"left","baseline":"middle","fontSize":10,"color":"#b4f03c"},"encoding":{"x":{"datum":152.3,"type":"quantitative","scale":{"domain":[-15,497.4],"nice":false,"zero":false},"axis":null},"y":{"datum":0.45,"type":"quantitative","scale":{"domain":[0,1],"nice":false,"zero":false},"axis":null},"text":{"value":"LowerBand:"}}},
{"mark":{"type":"text","align":"left","baseline":"middle","fontSize":10,"color":"#1e1e78"},"encoding":{"x":{"datum":190.2,"type":"quantitative","scale":{"domain":[-15,497.4],"nice":false,"zero":false},"axis":null},"y":{"datum":0.45,"type":"quantitative","scale":{"domain":[0,1],"nice":false,"zero":false},"axis":null},"text":{"value":"30,0000"}}},
{"mark":{"type":"text","align":"left","baseline":"middle","fontSize":10,"color":"#ff2020"},"encoding":{"x":{"datum":220.2,"type":"quantitative","scale":{"domain":[-15,497.4],"nice":false,"zero":false},"axis":null},"y":{"datum":0.45,"type":"quantitative","scale":{"domain":[0,1],"nice":false,"zero":false},"axis":null},"text":{"value":"P: 58,2927"}}},
{"mark":{"type":"rect","fill":"#d4d0c8","stroke":"#303030","strokeWidth":1},"encoding":{"x":{"datum":471.0,"type":"quantitative","scale":{"domain":[-15,497.4],"nice":false,"zero":false},"axis":null},"x2":{"datum":478.5},"y":{"datum":0.72,"type":"quantitative","scale":{"domain":[0,1],"nice":false,"zero":false},"axis":null},"y2":{"datum":0.16}}},
{"mark":{"type":"rect","fill":"#d4d0c8","stroke":"#303030","strokeWidth":1},"encoding":{"x":{"datum":479.2,"type":"quantitative","scale":{"domain":[-15,497.4],"nice":false,"zero":false},"axis":null},"x2":{"datum":486.8},"y":{"datum":0.72,"type":"quantitative","scale":{"domain":[0,1],"nice":false,"zero":false},"axis":null},"y2":{"datum":0.16}}},
{"mark":{"type":"rect","fill":"#d4d0c8","stroke":"#303030","strokeWidth":1},"encoding":{"x":{"datum":487.5,"type":"quantitative","scale":{"domain":[-15,497.4],"nice":false,"zero":false},"axis":null},"x2":{"datum":495.1},"y":{"datum":0.72,"type":"quantitative","scale":{"domain":[0,1],"nice":false,"zero":false},"axis":null},"y2":{"datum":0.16}}},
{"mark":{"type":"text","align":"center","baseline":"middle","fontSize":9,"fontWeight":"bold","color":"#000000","dy":-1},"encoding":{"x":{"datum":474.8,"type":"quantitative","scale":{"domain":[-15,497.4],"nice":false,"zero":false},"axis":null},"y":{"datum":0.44,"type":"quantitative","scale":{"domain":[0,1],"nice":false,"zero":false},"axis":null},"text":{"value":"_"}}},
{"mark":{"type":"text","align":"center","baseline":"middle","fontSize":10,"color":"#000000","font":"DejaVu Sans"},"encoding":{"x":{"datum":483.0,"type":"quantitative","scale":{"domain":[-15,497.4],"nice":false,"zero":false},"axis":null},"y":{"datum":0.44,"type":"quantitative","scale":{"domain":[0,1],"nice":false,"zero":false},"axis":null},"text":{"value":"□"}}},
{"mark":{"type":"text","align":"center","baseline":"middle","fontSize":8,"fontWeight":"bold","color":"#000000","font":"DejaVu Sans"},"encoding":{"x":{"datum":491.3,"type":"quantitative","scale":{"domain":[-15,497.4],"nice":false,"zero":false},"axis":null},"y":{"datum":0.44,"type":"quantitative","scale":{"domain":[0,1],"nice":false,"zero":false},"axis":null},"text":{"value":"✕"}}}
]},
{"width":774,"height":233,"view":{"fill":"#3f007f"},
"layer":[
{"data":{"values":[{"g":30},{"g":40},{"g":50},{"g":60},{"g":70}]},"mark":{"type":"rule","color":"#c0b0a8","strokeDash":[1,3],"strokeWidth":1},
"encoding":{"x":{"datum":-15,"type":"quantitative","scale":{"domain":[-15,497.4],"nice":false,"zero":false},
"axis":{"values":[0,38,76,84,114,152,190,203,228,266,304,322,342,380,418],
"labelExpr":"datum.value==0?'07:36':datum.value==38?'15:12':datum.value==84?'11/05/06':datum.value==152?'14:00':datum.value==203?'12/05/06':datum.value==266?'12:48':datum.value==322?'13/05/06':datum.value==380?'06:48':datum.value==418?'14:24':''",
"labelAlign":"left","labelBaseline":"top","labelOffset":1,"labelFontSize":11.5,"labelColor":"#000000","labelFont":"Liberation Sans",
"labelPadding":{"condition":{"test":"datum.value==84||datum.value==203||datum.value==322","value":-3},"value":3},
"tickSize":{"condition":{"test":"datum.value==84||datum.value==203||datum.value==322","value":11},"value":5},
"tickColor":"#000000","domain":false,"grid":true,"gridColor":"#b8a898","gridDash":[1,3],
"gridOpacity":{"condition":{"test":"datum.value==84||datum.value==203||datum.value==322","value":0},"value":1},
"labelOverlap":false,"labelFlush":false,"title":null}},"x2":{"datum":455},
"y":{"field":"g","type":"quantitative","scale":{"domain":[26.72,72.41],"nice":false,"zero":false},"axis":{"orient":"right","offset":-64,"values":[30,40,50,60,70],"labelExpr":"replace(format(datum.value,'.4f'),'.',',')","grid":false,"title":null,"domainColor":"#000000","domainWidth":1.5,"tickColor":"#10105e","tickSize":4,"labelPadding":2,"labelFontSize":12.5,"labelColor":"#1e1e80","labelFont":"Liberation Sans","labelAlign":"left","labelBaseline":"middle","labelFlush":false,"labelOverlap":false}}}},
{"data":{"name":"lvFull"},"mark":{"type":"rule","strokeWidth":1.5},
"encoding":{"x":{"datum":-11,"type":"quantitative"},"x2":{"datum":453},"y":{"field":"lv","type":"quantitative"},"color":{"field":"k","type":"nominal","scale":{"domain":["g","y","t","w"],"range":["#80ff00","#ffff00","#d4b4a4","#ffffff"]},"legend":null}}},
{"data":{"name":"lvShort"},"mark":{"type":"rule","strokeWidth":1.5},
"encoding":{"x":{"datum":-11,"type":"quantitative"},"x2":{"datum":357.5},"y":{"field":"lv","type":"quantitative"},"color":{"field":"k","type":"nominal","legend":null}}},
{"data":{"values":[{}]},"mark":{"type":"rule","color":"#d8a070","strokeDash":[2,1],"strokeWidth":1},
"encoding":{"x":{"datum":-11,"type":"quantitative"},"x2":{"datum":455},"y":{"datum":40,"type":"quantitative"}}},
{"data":{"name":"trend"},"mark":{"type":"line","color":"#1a1aff","strokeWidth":1},
"encoding":{"x":{"field":"t","type":"quantitative"},"y":{"field":"r","type":"quantitative"},"detail":{"field":"ln"}}},
{"data":{"name":"rsi"},"mark":{"type":"line","color":"#22ee44","strokeWidth":1.3},
"encoding":{"x":{"field":"t","type":"quantitative"},"y":{"field":"r","type":"quantitative"}}},
{"data":{"name":"tw"},"mark":{"type":"line","color":"#ffffff","strokeWidth":1.5,"strokeDash":[4,4]},
"encoding":{"x":{"field":"t","type":"quantitative"},"y":{"field":"r","type":"quantitative"}}},
{"data":{"values":[{}]},"mark":{"type":"rect","stroke":"#000000","strokeWidth":1.5,"fill":{"gradient":"linear","x1":0,"y1":0,"x2":1,"y2":1,"stops":[{"offset":0,"color":"#1a6f9a"},{"offset":1,"color":"#2f9ccb"}]}},
"encoding":{"x":{"datum":-8.4,"type":"quantitative"},"x2":{"datum":92.2},"y":{"datum":35.84,"type":"quantitative"},"y2":{"datum":28.63}}},
{"data":{"values":[{}]},"mark":{"type":"point","shape":"M-1,0A1,0.5,0,1,0,1,0A1,0.5,0,1,0,-1,0Z","size":1600,"filled":false,"stroke":"#8fd0f0","strokeWidth":3,"opacity":0.8},
"encoding":{"x":{"datum":11.5,"type":"quantitative"},"y":{"datum":31.73,"type":"quantitative"}}},
{"data":{"values":[{}]},"mark":{"type":"point","shape":"M-1,0.7C-0.3,0.55,0.3,0,0.9,-0.65","size":1600,"filled":false,"stroke":"#f0a020","strokeWidth":3},
"encoding":{"x":{"datum":10.8,"type":"quantitative"},"y":{"datum":32.5,"type":"quantitative"}}},
{"data":{"values":[{}]},"mark":{"type":"text","align":"left","baseline":"middle","fontSize":13,"color":"#e6f2f6"},
"encoding":{"x":{"datum":31.8,"type":"quantitative"},"y":{"datum":33.39,"type":"quantitative"},"text":{"value":"Visual Chart"}}},
{"data":{"values":[{}]},"mark":{"type":"text","align":"left","baseline":"middle","fontSize":9,"color":"#ffffff"},
"encoding":{"x":{"datum":31.8,"type":"quantitative"},"y":{"datum":30.59,"type":"quantitative"},"text":{"value":"www.visualchart.com"}}},
{"data":{"values":[{}]},"mark":{"type":"rect","fill":"#ffffc8","stroke":"#000000","strokeWidth":1},"encoding":{"x":{"datum":459.9,"type":"quantitative"},"x2":{"datum":491.9},"y":{"datum":51.39,"type":"quantitative"},"y2":{"datum":54.13}}},
{"data":{"values":[{}]},"mark":{"type":"text","align":"center","baseline":"middle","fontSize":13,"color":"#000000"},"encoding":{"x":{"datum":475.9,"type":"quantitative"},"y":{"datum":52.76,"type":"quantitative"},"text":{"value":"52,7629"}}},
{"data":{"values":[{}]},"mark":{"type":"text","align":"center","baseline":"middle","fontSize":10,"color":"#c0c0c0"},"encoding":{"x":{"datum":457.5,"type":"quantitative"},"y":{"datum":52.76,"type":"quantitative"},"text":{"value":"‹"}}},
{"data":{"values":[{}]},"mark":{"type":"rule","color":"#000000","strokeWidth":1.5},"encoding":{"x":{"datum":455,"type":"quantitative"},"x2":{"datum":497.4},"y":{"datum":72.41,"type":"quantitative"}}},
{"data":{"values":[{}]},"mark":{"type":"rule","color":"#000000","strokeWidth":1.5},"encoding":{"x":{"datum":496.9,"type":"quantitative"},"y":{"datum":26.72,"type":"quantitative"},"y2":{"datum":72.41}}}
]}
]
}
